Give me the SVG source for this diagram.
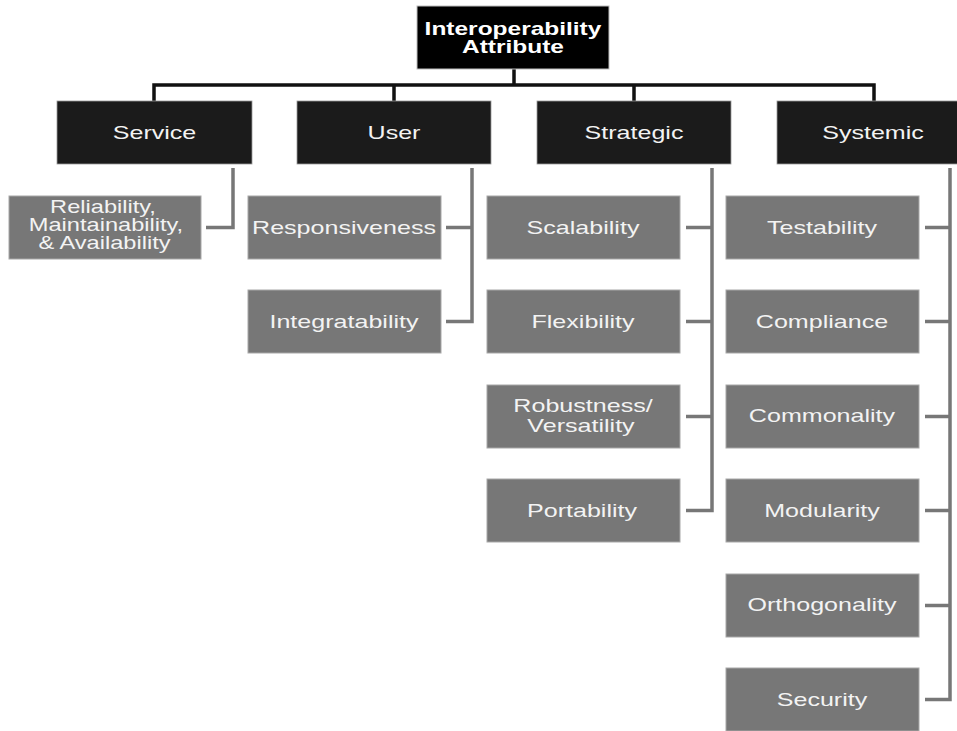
<svg xmlns="http://www.w3.org/2000/svg" width="957" height="731" viewBox="0 0 957 731">
<style>
  .root rect { fill: #000; stroke: #bdbdbd; stroke-width: 1; }
  .cat rect { fill: #1b1b1b; stroke: #9a9a9a; stroke-width: 0.8; }
  .leaf rect { fill: #777777; stroke: #a8a8a8; stroke-width: 1; }
  text { font-family: "Liberation Sans", Arial, sans-serif; font-size: 19px; fill: #f3f3f3; text-anchor: middle; }
  .root text { font-weight: bold; fill: #fff; font-size: 17.5px; }
  .leaf text.small { font-size: 17.5px; }
  .top { fill: none; stroke: #111; stroke-width: 3.5; stroke-linejoin: miter; stroke-linecap: butt; }
  .sub { fill: none; stroke: #777; stroke-width: 3.5; stroke-linejoin: miter; stroke-linecap: butt; }
</style>
<rect width="957" height="731" fill="#fff"/>
<g id="connectors">
  <path class="top" d="M514,69 V85 M154,101 V85 H874 V101 M394,85 V101 M634,85 V101"/>
  <path class="sub" d="M233,168 V227.5 H206"/>
  <path class="sub" d="M472,168 V321.5 H446 M472,227.5 H446"/>
  <path class="sub" d="M712,168 V510.5 H686 M712,227.5 H686 M712,321.5 H686 M712,416.5 H686"/>
  <path class="sub" d="M950,168 V699.5 H925 M950,227.5 H925 M950,321.5 H925 M950,416.5 H925 M950,510.5 H925 M950,605.5 H925"/>
</g>
<g id="root" class="root">
  <rect x="417" y="6" width="192" height="63"/>
  <text transform="translate(513,35) scale(1.4,1)">Interoperability</text>
  <text transform="translate(513,53) scale(1.4,1)">Attribute</text>
</g>
<g id="service" class="cat">
  <rect x="57" y="101" width="195" height="63"/>
  <text transform="translate(154.5,139) scale(1.32,1)">Service</text>
</g>
<g id="user" class="cat">
  <rect x="297" y="101" width="194" height="63"/>
  <text transform="translate(394,139) scale(1.32,1)">User</text>
</g>
<g id="strategic" class="cat">
  <rect x="537" y="101" width="194" height="63"/>
  <text transform="translate(634,139) scale(1.32,1)">Strategic</text>
</g>
<g id="systemic" class="cat">
  <rect x="777" y="101" width="195" height="63"/>
  <text transform="translate(873,139) scale(1.32,1)">Systemic</text>
</g>
<g id="rma" class="leaf">
  <rect x="9" y="196" width="192" height="63"/>
  <text class="small" transform="translate(103,213) scale(1.35,1)">Reliability,</text>
  <text class="small" transform="translate(106,231) scale(1.35,1)">Maintainability,</text>
  <text class="small" transform="translate(104.5,249) scale(1.35,1)">&amp; Availability</text>
</g>
<g id="responsiveness" class="leaf">
  <rect x="248" y="196" width="193" height="63"/>
  <text transform="translate(344,234) scale(1.32,1)">Responsiveness</text>
</g>
<g id="integratability" class="leaf">
  <rect x="248" y="290" width="193" height="63"/>
  <text transform="translate(344,328) scale(1.32,1)">Integratability</text>
</g>
<g id="scalability" class="leaf">
  <rect x="487" y="196" width="193" height="63"/>
  <text transform="translate(583,234) scale(1.32,1)">Scalability</text>
</g>
<g id="flexibility" class="leaf">
  <rect x="487" y="290" width="193" height="63"/>
  <text transform="translate(583,328) scale(1.32,1)">Flexibility</text>
</g>
<g id="robustness" class="leaf">
  <rect x="487" y="385" width="193" height="63"/>
  <text transform="translate(583,412) scale(1.32,1)">Robustness/</text>
  <text transform="translate(581,432) scale(1.32,1)">Versatility</text>
</g>
<g id="portability" class="leaf">
  <rect x="487" y="479" width="193" height="63"/>
  <text transform="translate(582,517) scale(1.32,1)">Portability</text>
</g>
<g id="testability" class="leaf">
  <rect x="726" y="196" width="193" height="63"/>
  <text transform="translate(822,234) scale(1.32,1)">Testability</text>
</g>
<g id="compliance" class="leaf">
  <rect x="726" y="290" width="193" height="63"/>
  <text transform="translate(822,328) scale(1.32,1)">Compliance</text>
</g>
<g id="commonality" class="leaf">
  <rect x="726" y="385" width="193" height="63"/>
  <text transform="translate(822,422) scale(1.32,1)">Commonality</text>
</g>
<g id="modularity" class="leaf">
  <rect x="726" y="479" width="193" height="63"/>
  <text transform="translate(822,517) scale(1.32,1)">Modularity</text>
</g>
<g id="orthogonality" class="leaf">
  <rect x="726" y="574" width="193" height="63"/>
  <text transform="translate(822,611) scale(1.32,1)">Orthogonality</text>
</g>
<g id="security" class="leaf">
  <rect x="726" y="668" width="193" height="63"/>
  <text transform="translate(822,706) scale(1.32,1)">Security</text>
</g>
</svg>
